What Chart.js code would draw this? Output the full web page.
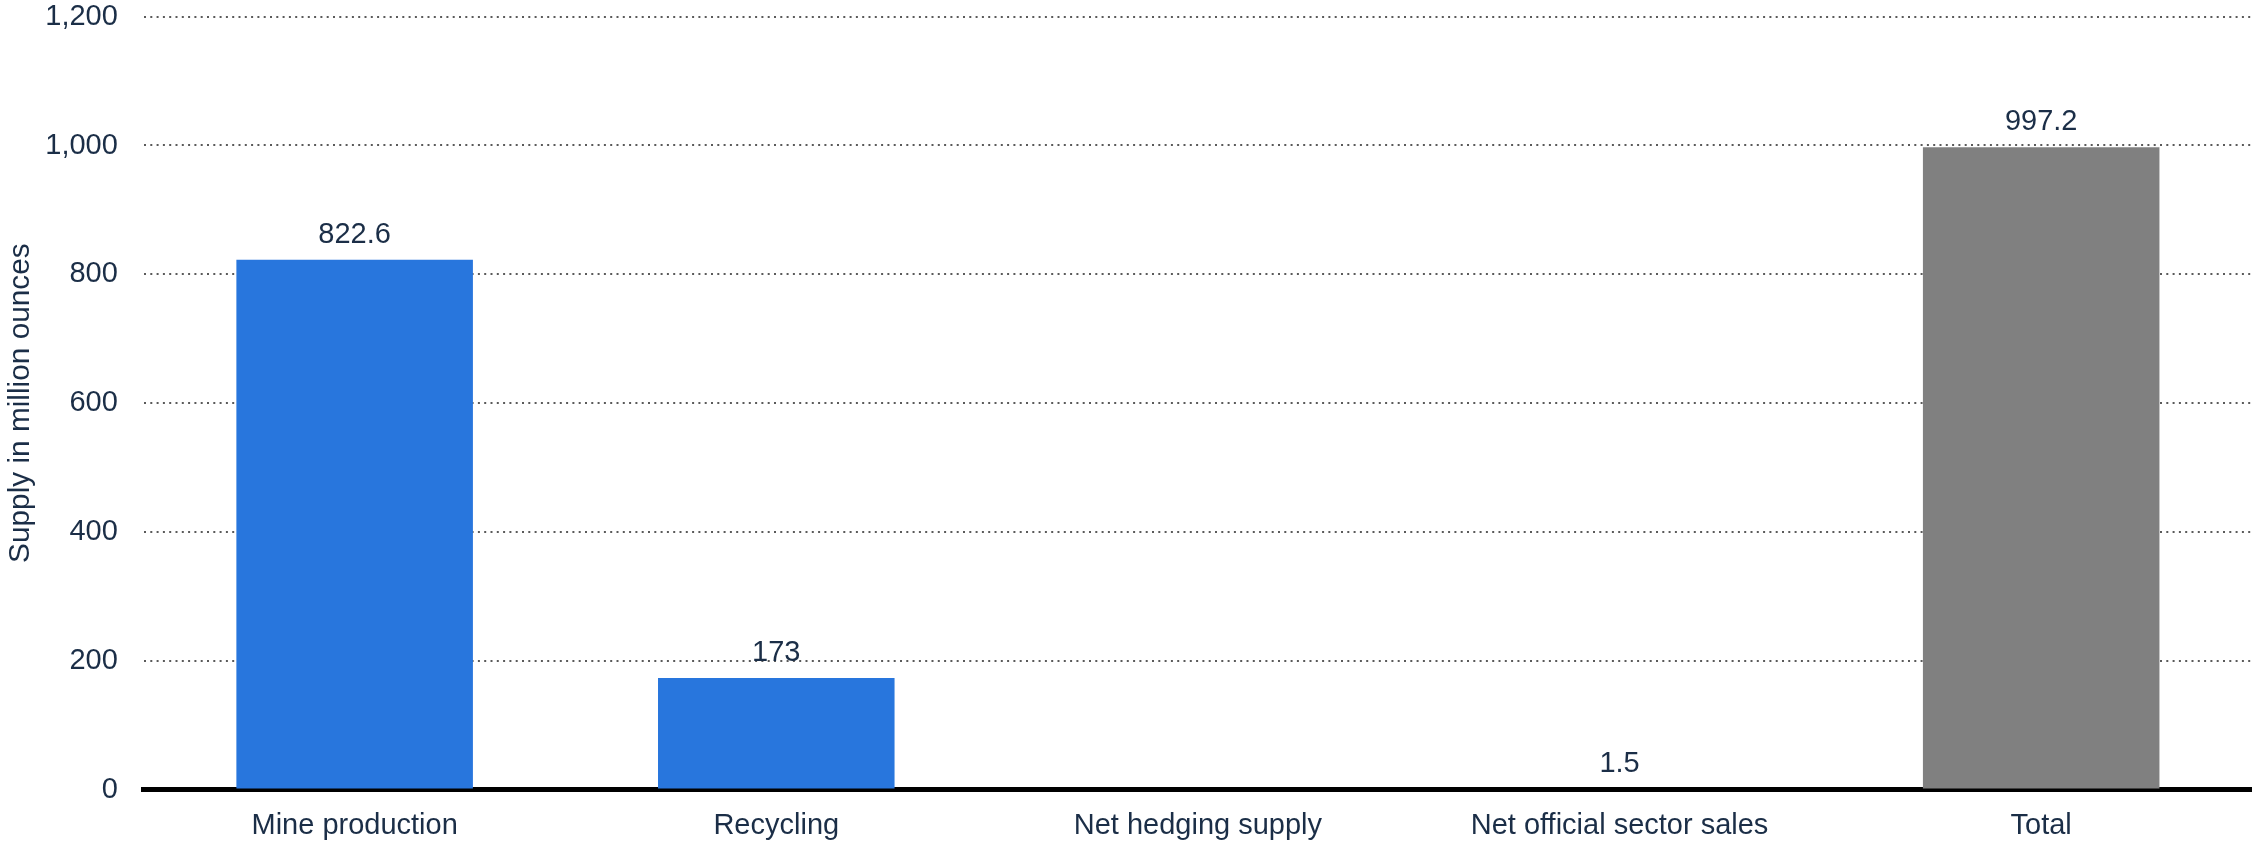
<!DOCTYPE html>
<html>
<head>
<meta charset="utf-8">
<script src="https://cdn.jsdelivr.net/npm/chart.js@4.4.0/dist/chart.umd.min.js"></script>
<style>
  html, body { margin: 0; padding: 0; background: #ffffff; }
  #wrap { width: 2252px; height: 842px; position: relative; }
</style>
</head>
<body>
<div id="wrap"><canvas id="c" width="2252" height="842"></canvas></div>
<script>
const categories = ["Mine production", "Recycling", "Net hedging supply", "Net official sector sales", "Total"];
const supplyValues = [822.6, 173, null, 1.5, 997.2];
const barColors = ["#2876dd", "#2876dd", "#2876dd", "#2876dd", "#808080"];
const yAxisTitle = "Supply in million ounces";
const yMin = 0, yMax = 1200, yStep = 200;

const textColor = "#1b2e47";
const fontFamily = "'Liberation Sans', Arial, Helvetica, sans-serif";
const fontSize = 29;

const valueLabels = {
  id: 'valueLabels',
  afterDatasetsDraw(chart) {
    const ctx = chart.ctx;
    const meta = chart.getDatasetMeta(0);
    const data = chart.data.datasets[0].data;
    ctx.save();
    ctx.font = fontSize + "px " + fontFamily;
    ctx.fillStyle = textColor;
    ctx.textAlign = 'center';
    ctx.textBaseline = 'alphabetic';
    meta.data.forEach((bar, i) => {
      const v = data[i];
      if (v === null || v === undefined) return;
      ctx.fillText(v.toLocaleString('en-US'), bar.x, bar.y - 17);
    });
    ctx.restore();
  }
};

new Chart(document.getElementById('c'), {
  type: 'bar',
  data: {
    labels: categories,
    datasets: [{
      data: supplyValues,
      backgroundColor: barColors,
      borderWidth: 0,
      barPercentage: 0.561,
      categoryPercentage: 1.0
    }]
  },
  options: {
    responsive: false,
    animation: false,
    devicePixelRatio: 1,
    layout: { padding: 0 },
    plugins: {
      legend: { display: false },
      tooltip: { enabled: false }
    },
    scales: {
      x: {
        grid: { display: false, drawTicks: false },
        border: { display: true, color: '#000000', width: 5 },
        ticks: {
          color: textColor,
          font: { family: fontFamily, size: fontSize },
          padding: 19,
          maxRotation: 0,
          autoSkip: false
        },
        afterFit: (scale) => { scale.height = 52.5; scale.paddingLeft = 0; scale.paddingRight = 0; }
      },
      y: {
        min: yMin,
        max: yMax,
        ticks: {
          stepSize: yStep,
          color: textColor,
          font: { family: fontFamily, size: fontSize },
          padding: 26
        },
        border: { display: false, dash: [2, 4.3] },
        grid: {
          drawTicks: false,
          lineWidth: 2,
          color: (c) => (c.tick && c.tick.value === 0) ? 'rgba(0,0,0,0)' : '#5a5a5a'
        },
        title: {
          display: true,
          text: yAxisTitle,
          color: textColor,
          font: { family: fontFamily, size: 29.8 },
          padding: { top: 2.5, bottom: -19 }
        },
        afterFit: (scale) => { scale.paddingTop = 16.7; scale.paddingBottom = 0; }
      }
    }
  },
  plugins: [valueLabels]
});
</script>
</body>
</html>
